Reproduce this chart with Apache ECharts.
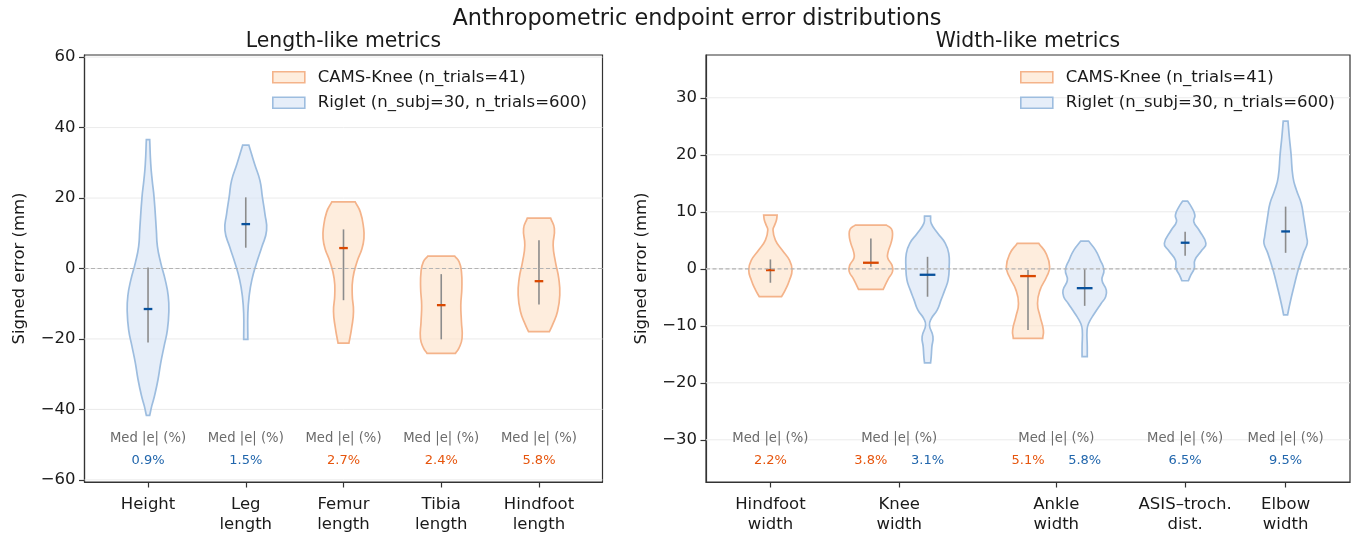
<!DOCTYPE html>
<html><head><meta charset="utf-8">
<script src="https://cdn.jsdelivr.net/npm/echarts@6/dist/echarts.min.js"></script>
<style>html,body{margin:0;padding:0;background:#fff}#c{width:1357px;height:533px}</style>
</head><body><div id="c"></div>
<script>
const FONT = 'DejaVu Sans';

// ---------- categories / ticks ----------
const lengthCats = ['Height', 'Leg\nlength', 'Femur\nlength', 'Tibia\nlength', 'Hindfoot\nlength'];
const lengthTickPos = [0, 1, 2, 3, 4];
const widthCats = ['Hindfoot\nwidth', 'Knee\nwidth', 'Ankle\nwidth', 'ASIS\u2013troch.\ndist.', 'Elbow\nwidth'];
const widthTickPos = [0, 1, 2.22, 3.22, 4];
const lengthYTicks = [-60, -40, -20, 0, 20, 40, 60];
const widthYTicks = [-30, -20, -10, 0, 10, 20, 30];
const legendNames = ['CAMS-Knee (n_trials=41)', 'Riglet (n_subj=30, n_trials=600)'];
const medLabel = 'Med |e| (%)';

// ---------- length-like violins ----------
const lengthPos = [0, 1, 2, 3, 4];
const lengthSrc = [1, 1, 0, 0, 0]; // 0 = CAMS-Knee, 1 = Riglet
const lengthMedian = [-11.5, 12.6, 5.8, -10.4, -3.6];
const lengthLo = [-21.0, 5.9, -9.0, -20.1, -10.2];
const lengthHi = [0.3, 20.2, 11.1, -1.6, 8.0];
const lengthPct = ['0.9%', '1.5%', '2.7%', '2.4%', '5.8%'];

// density outlines: [value, relative half-width]
const shapeHeight = [[36.6,0.08],[29.7,0.13],[25.0,0.2],[20.2,0.29],[10.8,0.40],[6.3,0.45],[1.6,0.61],[-3.1,0.82],[-7.8,0.97],[-12.2,1.0],[-17.4,0.93],[-22.1,0.77],[-26.8,0.61],[-31.5,0.48],[-36.2,0.31],[-39.0,0.18],[-41.7,0.08]];
const shapeLeg = [[35.0,0.15],[29.7,0.42],[25.0,0.68],[20.2,0.80],[15.5,0.92],[10.8,1.0],[6.1,0.77],[1.4,0.51],[-3.3,0.29],[-8.0,0.16],[-12.7,0.10],[-20.1,0.10]];
const shapeFemur = [[18.9,0.56],[16.0,0.81],[11.3,0.97],[8.5,0.98],[5.7,0.89],[1.9,0.65],[-2.8,0.45],[-7.5,0.42],[-12.2,0.48],[-16.9,0.39],[-21.2,0.26]];
const shapeTibia = [[3.5,0.65],[1.9,0.86],[-0.9,0.97],[-5.6,0.99],[-10.4,0.94],[-15.1,0.97],[-19.8,1.0],[-22.6,0.85],[-24.1,0.68]];
const shapeHindfootL = [[14.3,0.56],[11.3,0.74],[6.6,0.68],[1.9,0.79],[-2.8,0.95],[-7.5,1.0],[-12.2,0.89],[-16.0,0.65],[-17.9,0.50]];
const lengthShapes = [shapeHeight, shapeLeg, shapeFemur, shapeTibia, shapeHindfootL];

// ---------- width-like violins ----------
const widthPos = [0, 0.78, 1.22, 2.0, 2.44, 3.22, 4.0];
const widthSrc = [0, 0, 1, 0, 1, 1, 1];
const widthMedian = [-0.23, 1.06, -1.05, -1.28, -3.4, 4.57, 6.55];
const widthLo = [-2.45, 0.35, -4.9, -10.75, -6.5, 2.3, 2.8];
const widthHi = [1.64, 5.32, 2.1, -0.23, -0.05, 6.5, 10.9];
const widthPct = ['2.2%', '3.8%', '3.1%', '5.1%', '5.8%', '6.5%', '9.5%'];

const shapeHindfootW = [[9.4,0.31],[8.55,0.28],[7.7,0.2],[6.8,0.12],[5.03,0.23],[3.3,0.54],[1.5,0.88],[-0.2,1.0],[-2.0,0.88],[-3.7,0.69],[-4.9,0.51]];
const shapeKneeC = [[7.67,0.72],[7.0,0.95],[5.9,1.0],[4.5,0.93],[3.0,0.8],[1.9,0.78],[0.6,0.98],[-0.5,1.0],[-1.8,0.8],[-3.6,0.57]];
const shapeKneeR = [[9.25,0.14],[7.96,0.17],[6.2,0.48],[4.47,0.82],[2.7,0.98],[0.35,1.0],[-2.0,0.95],[-3.7,0.8],[-5.5,0.62],[-7.2,0.45],[-8.7,0.18],[-9.9,0.09],[-11.9,0.25],[-13.7,0.2],[-15.4,0.17],[-16.5,0.14]];
const shapeAnkleC = [[4.45,0.5],[2.7,0.83],[0.35,1.0],[-1.4,0.86],[-3.7,0.56],[-6.08,0.44],[-8.4,0.56],[-10.75,0.71],[-12.2,0.68]];
const shapeAnkleR = [[4.86,0.18],[3.28,0.5],[1.53,0.72],[-0.23,0.89],[-1.99,0.8],[-3.74,1.0],[-4.9,0.97],[-6.08,0.76],[-7.84,0.45],[-9.6,0.18],[-10.75,0.11],[-13.7,0.12],[-15.4,0.12]];
const shapeAsis = [[11.88,0.11],[10.9,0.28],[9.42,0.45],[8.25,0.4],[6.8,0.64],[4.45,0.96],[3.28,0.78],[1.53,0.45],[0.06,0.42],[-1.1,0.26],[-2.1,0.15]];
const shapeElbow = [[25.9,0.11],[23.2,0.17],[20.2,0.25],[16.1,0.34],[13.8,0.5],[11.5,0.72],[9.13,0.83],[5.6,0.97],[4.45,1.0],[2.7,0.82],[-0.23,0.58],[-3.2,0.38],[-6.08,0.2],[-8.1,0.09]];
const widthShapes = [shapeHindfootW, shapeKneeC, shapeKneeR, shapeAnkleC, shapeAnkleR, shapeAsis, shapeElbow];

// ---------- styles ----------
const SRC_STYLE = [
  { fill: 'rgba(253,226,200,0.62)', stroke: '#f4b38a', med: '#d94801', text: '#e6550d' },
  { fill: 'rgba(214,228,245,0.62)', stroke: '#9dbddf', med: '#08519c', text: '#2166ac' }
];
const PANELS = [
  { xMin: -0.65, xMax: 4.65, yMin: -60.6, yMax: 60.6, halfMax: 0.213, tickSingle: 0.044, tickPair: 0.08 },
  { xMin: -0.5, xMax: 4.5, yMin: -37.4, yMax: 37.5, halfMax: 0.168, tickSingle: 0.034, tickPair: 0.061 }
];
const MED_FRAC = 0.101, PCT_FRAC = 0.050;
const TICK_FS = 16.5;

function fracY(p, f) { return p.yMin + f * (p.yMax - p.yMin); }
function minusFmt(v) { return String(v).replace('-', '\u2212'); }
function nearestIdx(arr, v) { let b = 0; arr.forEach((t, i) => { if (Math.abs(t - v) < Math.abs(arr[b] - v)) b = i; }); return b; }

function violinSeries(g, srcK, pos, src, med, lo, hi, pct, shapes) {
  const P = PANELS[g];
  const st = SRC_STYLE[srcK];
  const data = [];
  pos.forEach((p, i) => { if (src[i] === srcK) data.push([p, med[i], lo[i], hi[i], i]); });
  return {
    type: 'custom', name: legendNames[srcK], xAxisIndex: g, yAxisIndex: g, z: 2,
    itemStyle: { color: st.fill, borderColor: st.stroke },
    data: data,
    renderItem: function (params, api) {
      const p = api.value(0), m = api.value(1), l = api.value(2), h = api.value(3), i = api.value(4);
      const shape = shapes[i];
      const paired = pos.some((q, j) => j !== i && Math.abs(q - p) < 0.6);
      const tw = paired ? P.tickPair : P.tickSingle;
      const R = shape.map(d => api.coord([p + d[1] * P.halfMax, d[0]]));
      const L = shape.slice().reverse().map(d => api.coord([p - d[1] * P.halfMax, d[0]]));
      const pts = [R[0]].concat(R, [R[R.length - 1]], [L[0]], L, [L[L.length - 1]]);
      const a = api.coord([p, l]), b = api.coord([p, h]);
      const m1 = api.coord([p - tw, m]), m2 = api.coord([p + tw, m]);
      const t = api.coord([p, fracY(P, PCT_FRAC)]);
      return {
        type: 'group',
        children: [
          { type: 'polygon', shape: { points: pts, smooth: 0.5 }, style: { fill: st.fill, stroke: st.stroke, lineWidth: 1.7 } },
          { type: 'line', z2: 5, shape: { x1: a[0], y1: a[1], x2: b[0], y2: b[1] }, style: { stroke: '#8c8c8c', lineWidth: 1.6 } },
          { type: 'line', z2: 6, shape: { x1: m1[0], y1: m1[1], x2: m2[0], y2: m2[1] }, style: { stroke: st.med, lineWidth: 2.3 } },
          { type: 'text', x: t[0], y: t[1], style: { text: pct[i], fill: st.text, font: '13px ' + FONT, align: 'center', verticalAlign: 'middle' } }
        ]
      };
    }
  };
}

function gridLineSeries(g, ticks) {
  const P = PANELS[g];
  return {
    type: 'custom', xAxisIndex: g, yAxisIndex: g, z: 1, silent: true,
    data: ticks.map(v => [v]),
    renderItem: function (params, api) {
      const v = api.value(0);
      const a = api.coord([P.xMin, v]), b = api.coord([P.xMax, v]);
      return { type: 'line', shape: { x1: a[0], y1: a[1], x2: b[0], y2: b[1] }, style: { stroke: '#ebebeb', lineWidth: 1 } };
    }
  };
}

function zeroLineSeries(g) {
  const P = PANELS[g];
  return {
    type: 'custom', xAxisIndex: g, yAxisIndex: g, z: 3, silent: true,
    data: [[0]],
    renderItem: function (params, api) {
      const a = api.coord([P.xMin, 0]), b = api.coord([P.xMax, 0]);
      return { type: 'line', shape: { x1: a[0], y1: a[1], x2: b[0], y2: b[1] }, style: { stroke: '#b3b3b3', lineWidth: 1.2, lineDash: [4, 2.5] } };
    }
  };
}

function medLabelSeries(g, tickPos) {
  const P = PANELS[g];
  return {
    type: 'custom', xAxisIndex: g, yAxisIndex: g, z: 4, silent: true,
    data: tickPos.map(x => [x]),
    renderItem: function (params, api) {
      const c = api.coord([api.value(0), fracY(P, MED_FRAC)]);
      return { type: 'text', x: c[0], y: c[1], style: { text: medLabel, fill: '#6b6b6b', font: '13.2px ' + FONT, align: 'center', verticalAlign: 'middle' } };
    }
  };
}

function xAxisCfg(g, tickPos, cats) {
  const P = PANELS[g];
  return {
    gridIndex: g, type: 'value', min: P.xMin, max: P.xMax,
    axisLine: { show: true, onZero: false, lineStyle: { color: '#333', width: 1.2 } },
    axisTick: { show: true, length: 5.5, customValues: tickPos, lineStyle: { color: '#333', width: 1.2 } },
    axisLabel: { customValues: tickPos, formatter: v => cats[nearestIdx(tickPos, v)], margin: 13, fontSize: TICK_FS, lineHeight: 20, color: '#1a1a1a', fontFamily: FONT },
    splitLine: { show: false }
  };
}
function yAxisCfg(g, ticks) {
  const P = PANELS[g];
  return {
    gridIndex: g, type: 'value', min: P.yMin, max: P.yMax,
    name: 'Signed error (mm)', nameLocation: 'middle', nameGap: 56,
    nameTextStyle: { fontSize: 16.5, color: '#1a1a1a', fontFamily: FONT },
    axisLine: { show: true, onZero: false, lineStyle: { color: '#333', width: 1.2 } },
    axisTick: { show: true, length: 5.5, customValues: ticks, lineStyle: { color: '#333', width: 1.2 } },
    axisLabel: { customValues: ticks, formatter: minusFmt, margin: 9, fontSize: TICK_FS, color: '#1a1a1a', fontFamily: FONT },
    splitLine: { show: false }
  };
}
function legendCfg(left) {
  return {
    orient: 'vertical', left: left, top: 68, padding: 0, itemGap: 7,
    icon: 'rect', itemWidth: 32, itemHeight: 11,
    textStyle: { fontSize: 16.5, color: '#1a1a1a', fontFamily: FONT, lineHeight: 18.5, padding: [0, 0, 0, 8] },
    data: legendNames.map((n, k) => ({ name: n, itemStyle: { color: SRC_STYLE[k].fill, borderColor: SRC_STYLE[k].stroke, borderWidth: 1.6 } }))
  };
}

const chart = echarts.init(document.getElementById('c'), null, { renderer: 'canvas' });
chart.setOption({
  animation: false,
  backgroundColor: '#fff',
  textStyle: { fontFamily: FONT },
  grid: [
    { left: 84.5, top: 55, width: 518, height: 427, outerBoundsMode: 'none', containLabel: false, show: true, borderColor: '#333', borderWidth: 1.2, backgroundColor: 'transparent' },
    { left: 706, top: 55, width: 644, height: 427, outerBoundsMode: 'none', containLabel: false, show: true, borderColor: '#333', borderWidth: 1.2, backgroundColor: 'transparent' }
  ],
  xAxis: [xAxisCfg(0, lengthTickPos, lengthCats), xAxisCfg(1, widthTickPos, widthCats)],
  yAxis: [yAxisCfg(0, lengthYTicks), yAxisCfg(1, widthYTicks)],
  legend: [legendCfg(272), legendCfg(1020)],
  graphic: [
    { type: 'text', x: 697, y: 19, style: { text: 'Anthropometric endpoint error distributions', font: '22.4px ' + FONT, fill: '#1a1a1a', align: 'center', verticalAlign: 'middle' } },
    { type: 'text', x: 343.5, y: 41.5, style: { text: 'Length-like metrics', font: '20.4px ' + FONT, fill: '#1a1a1a', align: 'center', verticalAlign: 'middle' } },
    { type: 'text', x: 1028, y: 41.5, style: { text: 'Width-like metrics', font: '20.4px ' + FONT, fill: '#1a1a1a', align: 'center', verticalAlign: 'middle' } }
  ],
  series: [
    gridLineSeries(0, lengthYTicks), gridLineSeries(1, widthYTicks),
    violinSeries(0, 0, lengthPos, lengthSrc, lengthMedian, lengthLo, lengthHi, lengthPct, lengthShapes),
    violinSeries(0, 1, lengthPos, lengthSrc, lengthMedian, lengthLo, lengthHi, lengthPct, lengthShapes),
    violinSeries(1, 0, widthPos, widthSrc, widthMedian, widthLo, widthHi, widthPct, widthShapes),
    violinSeries(1, 1, widthPos, widthSrc, widthMedian, widthLo, widthHi, widthPct, widthShapes),
    zeroLineSeries(0), zeroLineSeries(1),
    medLabelSeries(0, lengthTickPos), medLabelSeries(1, widthTickPos)
  ]
});
</script></body></html>
